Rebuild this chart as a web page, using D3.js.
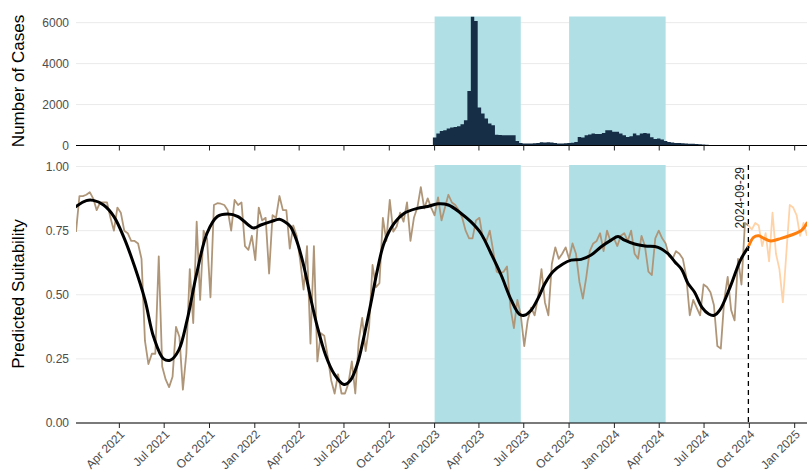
<!DOCTYPE html>
<html><head><meta charset="utf-8">
<script src="https://cdn.jsdelivr.net/npm/d3@7"></script>
<style>body{margin:0;background:#fff} text{font-family:"Liberation Sans", Arial, Helvetica, sans-serif}</style>
</head><body><svg id="c" width="811" height="475"></svg>
<script>
// ---------- data ----------
const seriesStart = "2021-01-03"; // weekly series
const suitability = [
0.745,0.885,0.885,0.89,0.90,0.875,0.83,0.86,0.86,0.86,
0.80,0.75,0.84,0.82,0.75,0.74,0.71,0.71,0.70,0.64,
0.32,0.23,0.27,0.27,0.65,0.22,0.17,0.14,0.18,0.375,
0.335,0.13,0.27,0.60,0.39,0.785,0.48,0.75,0.72,0.49,
0.85,0.857,0.855,0.85,0.83,0.75,0.87,0.85,0.86,0.69,
0.675,0.73,0.635,0.84,0.79,0.80,0.583,0.81,0.80,0.885,
0.83,0.83,0.68,0.77,0.73,0.635,0.52,0.69,0.31,0.69,
0.24,0.35,0.34,0.26,0.167,0.115,0.19,0.115,0.115,0.154,
0.24,0.115,0.32,0.41,0.28,0.375,0.616,0.53,0.545,0.80,
0.71,0.87,0.746,0.766,0.82,0.785,0.86,0.71,0.80,0.84,
0.92,0.837,0.876,0.84,0.81,0.88,0.79,0.84,0.89,0.86,
0.85,0.83,0.80,0.75,0.72,
0.72,0.79,0.80,0.72,0.71,0.75,0.67,0.59,0.583,0.59,
0.61,0.45,0.37,0.48,0.42,0.30,0.40,0.45,0.42,0.49,
0.60,0.47,0.42,0.62,0.685,0.64,0.66,0.685,0.64,0.70,
0.66,0.55,0.485,0.57,0.67,0.70,0.71,0.74,0.67,0.75,
0.71,0.72,0.69,0.73,0.74,0.71,0.75,0.66,0.64,0.73,
0.69,0.59,0.577,0.72,0.75,0.72,0.70,0.65,0.64,0.67,
0.66,
0.64,0.57,0.42,0.48,0.45,0.42,0.54,0.53,0.51,0.46,
0.30,0.29,0.48,0.57,0.44,0.40,0.64,0.54,0.78,0.77
];
const forecastStart = "2024-09-29";
const forecast = [0.77,0.755,0.78,0.77,0.69,0.74,0.63,0.82,0.66,0.60,0.47,0.66,0.85,0.84,0.81,0.73,0.78,0.73];
// smoothed trend (week offset from seriesStart, value)
const smoothWeeks = [0,3,5,8,11,14,17,20,22.5,25.4,27.4,29.8,32.2,35,38,41,44,47,50,51.5,53.6,56.5,59,60.5,62.2,64.1,66.1,68,70,72.4,74.8,77.7,79.6,81.6,83.5,85.5,87.4,89.3,92.2,95.2,99,102,105,108,111.6,114.5,117.4,120.4,123.3,126.2,128.6,130,132,134,136,138.3,141.2,143.6,146.5,149.4,152.3,155.2,157.2,159.1,162,165,168.8,171.7,173.7,175.6,177.5,179.4,181.6,183.5,185.1,186.7,189.7,192.7,195];
const smoothValues = [0.844,0.867,0.868,0.85,0.805,0.72,0.61,0.48,0.336,0.25,0.245,0.284,0.40,0.583,0.74,0.805,0.815,0.805,0.772,0.76,0.772,0.785,0.794,0.785,0.766,0.707,0.61,0.49,0.375,0.264,0.193,0.15,0.167,0.23,0.336,0.466,0.596,0.70,0.777,0.818,0.837,0.844,0.855,0.85,0.818,0.785,0.74,0.66,0.577,0.48,0.424,0.42,0.44,0.486,0.544,0.59,0.62,0.635,0.638,0.655,0.687,0.713,0.727,0.713,0.698,0.69,0.685,0.66,0.628,0.60,0.544,0.51,0.45,0.425,0.42,0.44,0.53,0.635,0.687];
const forecastSmoothWeeks = [195,196.5,198,199.5,201.5,204.5,207.5,210.5,212];
const forecastSmoothValues = [0.687,0.724,0.73,0.72,0.71,0.72,0.733,0.752,0.78];
const casesStart = "2023-01-01"; // weekly
const cases = [
390,585,712,746,830,878,907,941,1039,1234,
2663,6300,6080,1853,1561,1317,1073,990,520,510,
500,505,500,500,224,127,98,98,98,110,
120,160,150,160,150,127,100,98,110,127,
130,176,420,390,502,537,585,560,560,615,
746,746,668,668,585,500,420,449,585,502,
585,615,585,400,322,337,293,224,176,150,
127,127,110,100,90,80,70,60,50,40,30,20];
const shadedPeriods = [["2023-01-01","2023-06-25"],["2023-10-01","2024-04-14"]];
const xTickLabels = ["Apr 2021","Jul 2021","Oct 2021","Jan 2022","Apr 2022","Jul 2022","Oct 2022","Jan 2023","Apr 2023","Jul 2023","Oct 2023","Jan 2024","Apr 2024","Jul 2024","Oct 2024","Jan 2025"];
const caseTicks = [0,2000,4000,6000];
const suitTicks = [0,0.25,0.5,0.75,1.0];
const casesTitle = "Number of Cases";
const suitTitle = "Predicted Suitability";

// ---------- drawing ----------
const svg = d3.select("#c");
const parse = d3.utcParse("%Y-%m-%d");
const parseTick = d3.utcParse("%b %Y");
const t0 = parse(seriesStart);
const wk = k => new Date(t0.getTime() + k*7*864e5);
const L = 76, R = 807;
const x = d3.scaleUtc().domain([t0, wk(212)]).range([L, R]);
const yC = d3.scaleLinear().domain([0, 6300]).range([145.5, 16.5]);
const yS = d3.scaleLinear().domain([0, 1.006]).range([423, 165]);
const tickDates = xTickLabels.map(parseTick);
const grey = "#4d4d4d";

svg.append("defs").append("clipPath").attr("id","clipTop")
  .append("rect").attr("x",L).attr("y",yC.range()[1]).attr("width",R-L).attr("height",yC.range()[0]-yC.range()[1]);
svg.select("defs").append("clipPath").attr("id","clipBot")
  .append("rect").attr("x",L).attr("y",yS.range()[1]).attr("width",R-L).attr("height",yS.range()[0]-yS.range()[1]);

function panel(y, ticks, fmt, title, clipId) {
  const g = svg.append("g");
  g.selectAll(".grid").data(ticks).join("line")
    .attr("x1",L).attr("x2",R).attr("y1",d=>y(d)).attr("y2",d=>y(d))
    .attr("stroke","#ebebeb").attr("stroke-width",1);
  g.selectAll(".shade").data(shadedPeriods).join("rect")
    .attr("x",d=>x(parse(d[0]))).attr("width",d=>x(parse(d[1]))-x(parse(d[0])))
    .attr("y",y.range()[1]).attr("height",y.range()[0]-y.range()[1])
    .attr("fill","#b0e0e6");
  g.selectAll(".yl").data(ticks).join("text")
    .attr("x",69).attr("y",d=>y(d)).attr("dy","0.35em").attr("text-anchor","end")
    .attr("font-size",12).attr("fill",grey).text(fmt);
  const [r0,r1] = y.range();
  g.append("text").attr("transform",`translate(24,${(r0+r1)/2}) rotate(-90)`)
    .attr("text-anchor","middle").attr("font-size",17).attr("fill","#000").text(title);
  return svg.append("g").attr("clip-path",`url(#${clipId})`);
}
function axis(yPos, labels) {
  const g = svg.append("g");
  g.append("line").attr("x1",L).attr("x2",R).attr("y1",yPos).attr("y2",yPos)
    .attr("stroke","#000").attr("stroke-width",1.1);
  g.selectAll(".tk").data(tickDates).join("line")
    .attr("x1",d=>x(d)).attr("x2",d=>x(d)).attr("y1",yPos).attr("y2",yPos+5)
    .attr("stroke","#222").attr("stroke-width",1);
  if (labels) {
    g.selectAll(".tl").data(tickDates).join("text")
      .attr("transform",d=>`translate(${x(d)+3},${yPos+9}) rotate(-45)`)
      .attr("text-anchor","end").attr("dy","0.35em")
      .attr("font-size",12).attr("fill",grey).text(d=>d3.utcFormat("%b %Y")(d));
  }
}

// top panel: weekly case bars drawn as one stepped area (no seams)
const gTop = panel(yC, caseTicks, d3.format("d"), casesTitle, "clipTop");
const c0 = parse(casesStart);
const cd = i => new Date(c0.getTime() + i*7*864e5);
const barPts = cases.map((v,i)=>[cd(i-0.5), v]).concat([[cd(cases.length-0.5), cases[cases.length-1]]]);
gTop.append("path").datum(barPts)
  .attr("d", d3.area().x(d=>x(d[0])).y0(yC(0)).y1(d=>yC(d[1])).curve(d3.curveStepAfter))
  .attr("fill","#162f47");
axis(145.5, false);

// bottom panel
const gBot = panel(yS, suitTicks, d3.format(".2f"), suitTitle, "clipBot");
const line = d3.line().x(d=>x(d[0])).y(d=>yS(d[1]));
const fs = parse(forecastStart);
const fIdx = Math.round((fs - t0)/(7*864e5));
gBot.append("path").datum(forecast.map((v,i)=>[wk(fIdx+i),v]))
  .attr("d",line).attr("fill","none").attr("stroke","#ffd3a8").attr("stroke-width",1.8).attr("stroke-linejoin","round");
gBot.append("path").datum(suitability.map((v,i)=>[wk(i),v]))
  .attr("d",line).attr("fill","none").attr("stroke","#b09679").attr("stroke-width",1.8).attr("stroke-linejoin","round");
const smooth = d3.line().x(d=>x(d[0])).y(d=>yS(d[1])).curve(d3.curveCatmullRom.alpha(0.5));
gBot.append("path").datum(smoothWeeks.map((w,i)=>[wk(w),smoothValues[i]]))
  .attr("d",smooth).attr("fill","none").attr("stroke","#000").attr("stroke-width",3).attr("stroke-linecap","round");
gBot.append("path").datum(forecastSmoothWeeks.map((w,i)=>[wk(w),forecastSmoothValues[i]]))
  .attr("d",smooth).attr("fill","none").attr("stroke","#ff7f0e").attr("stroke-width",3).attr("stroke-linecap","round");
const xc = x(fs);
svg.append("line").attr("x1",xc).attr("x2",xc).attr("y1",yS.range()[1]).attr("y2",yS.range()[0])
  .attr("stroke","#000").attr("stroke-width",1.3).attr("stroke-dasharray","5,4");
svg.append("text").attr("transform",`translate(${xc-4},${yS.range()[1]+2}) rotate(-90)`)
  .attr("text-anchor","end").attr("font-size",12).attr("fill","#222").text(forecastStart);
axis(423, true);
</script></body></html>
